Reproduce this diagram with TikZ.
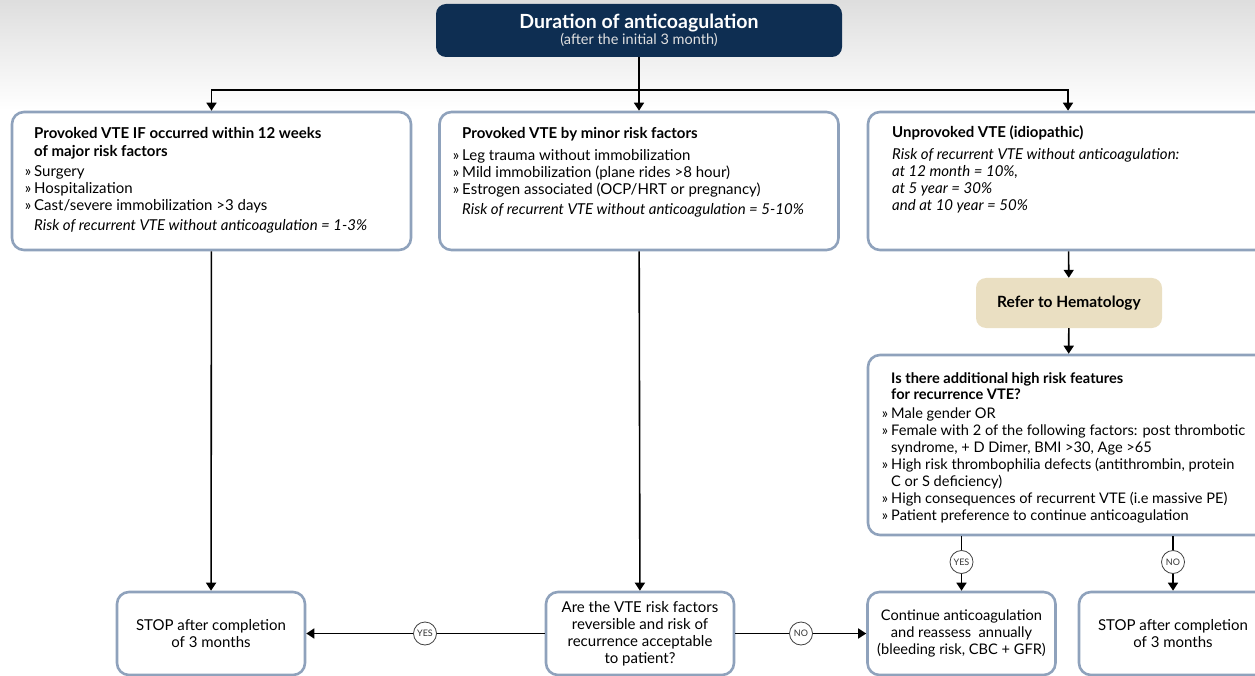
\documentclass[tikz,border=0pt]{standalone}
\usepackage{fontspec}
\setmainfont{Lato}
\usepackage{xcolor}
\usepackage{tikz}
\usetikzlibrary{arrows.meta, positioning, calc}
\definecolor{DeepNavy}{HTML}{0E2E52}
\definecolor{FrameGray}{HTML}{8FA2BC}
\definecolor{SandTan}{HTML}{EADFC2}
\newcommand{\bul}{\llap{»\hspace{3pt}}}

\begin{document}
\begin{tikzpicture}[>={Triangle[length=8pt,width=10pt]}, x=1pt, y=-1pt,
    every node/.style={font=\fontsize{15}{17}\selectfont},
    box/.style={draw=FrameGray, line width=2.6pt, fill=white, rounded corners=12pt, inner sep=0pt},
    endbox/.style={box, minimum width=188pt, minimum height=83pt, align=center},
    txt/.style={anchor=north west, align=left, inner sep=0pt},
    decide/.style={circle, draw=black!75, line width=0.8pt, fill=white, inner sep=0pt,
        minimum size=23pt, font=\fontsize{9}{10}\selectfont, text=black!80},
    link/.style={line width=1.6pt}]
        \useasboundingbox (0,0) rectangle (1255,676);
        \clip (0,0) rectangle (1255,676);
        % Background band
        \shade [top color=black!13, bottom color=white] (0,0) rectangle (1255,110);
        % Title
        \node [fill=DeepNavy, rounded corners=10pt, minimum width=406pt, minimum height=53pt, align=center, text=white]
            (title) at (639,30.5) {{\fontsize{19.5}{21}\selectfont\bfseries Duration of anticoagulation}\\[-1pt]
            {\fontsize{14.5}{15}\selectfont\color{white!88!black}(after the initial 3 month)}};
        \coordinate (split) at (639,90);
        % Three kinds of VTE
        \node [box, minimum width=399pt, minimum height=138pt] (major) at (211.5,181) {};
        \node [box, minimum width=399pt, minimum height=138pt] (minor) at (639,181) {};
        \node [box, minimum width=400pt, minimum height=138pt] (unprov) at (1068,181) {};
        \node [txt] (majortxt) at (34,127) {\textbf{Provoked VTE IF occurred within 12 weeks}\\[1pt]
            \textbf{of major risk factors}\\[3pt]
            \bul Surgery\\
            \bul Hospitalization\\
            \bul Cast/severe immobilization >3 days\\[3pt]
            \textit{Risk of recurrent VTE without anticoagulation = 1-3\%}};
        \node [txt] (minortxt) at (462,127) {\textbf{Provoked VTE by minor risk factors}\\[5pt]
            \bul Leg trauma without immobilization\\
            \bul Mild immobilization (plane rides >8 hour)\\
            \bul Estrogen associated (OCP/HRT or pregnancy)\\[3pt]
            \textit{Risk of recurrent VTE without anticoagulation = 5-10\%}};
        \node [txt] (unprovtxt) at (892,126) {\textbf{Unprovoked VTE (idiopathic)}\\[5pt]
            \textit{Risk of recurrent VTE without anticoagulation:}\\
            \textit{at 12 month = 10\%,}\\
            \textit{at 5 year = 30\%}\\
            \textit{and at 10 year = 50\%}};
        % Hematology and high risk features
        \node [fill=SandTan, rounded corners=10pt, minimum width=186pt, minimum height=50pt]
            (hema) at (1069,303) {\fontsize{15.5}{17}\selectfont\bfseries Refer to Hematology};
        \node [box, minimum width=400pt, minimum height=180pt] (highrisk) at (1068,445) {};
        \node [txt, font=\fontsize{14.6}{17}\selectfont] (highrisktxt) at (891,372)
            {\textbf{Is there additional high risk features}\\[-1pt]
            \textbf{for recurrence VTE?}\\[2pt]
            \bul Male gender OR\\
            \bul Female with 2 of the following factors: post thrombotic\\
            syndrome, + D Dimer, BMI >30, Age >65\\
            \bul High risk thrombophilia defects (antithrombin, protein\\
            C or S deficiency)\\
            \bul High consequences of recurrent VTE (i.e massive PE)\\
            \bul Patient preference to continue anticoagulation};
        % Bottom row
        \node [endbox] (stopA) at (211,633.5) {STOP after completion\\of 3 months};
        \node [endbox] (reverse) at (640,633.5) {Are the VTE risk factors\\reversible and risk of\\recurrence acceptable\\to patient?};
        \node [endbox, font=\fontsize{14.6}{17}\selectfont] (cont) at (961.5,633.5)
            {Continue anticoagulation\\and reassess\ \ annually\\(bleeding risk, CBC + GFR)};
        \node [endbox] (stopB) at (1173,633.5) {STOP after completion\\of 3 months};
        % Yes / no marks
        \node [decide] (yesA) at (425,633.5) {YES};
        \node [decide] (noA) at (801,633.5) {NO};
        \node [decide] (yesB) at (961.5,562) {YES};
        \node [decide] (noB) at (1173,562) {NO};
        % Connectors
        \draw [link, ->] (title) -- (minor);
        \draw [link, ->] (split) -| (major);
        \draw [link, ->] (split) -| (unprov);
        \draw [link, ->] (major) -- (stopA);
        \draw [link, ->] (minor) -- (reverse);
        \draw [link, ->] (unprov) -- (hema);
        \draw [link, ->] (hema) -- (highrisk);
        \draw [link] (reverse) -- (yesA);
        \draw [link, ->] (yesA) -- (stopA);
        \draw [link] (reverse) -- (noA);
        \draw [link, ->] (noA) -- (cont);
        \draw [link] (yesB |- highrisk.south) -- (yesB);
        \draw [link, ->] (yesB) -- (cont);
        \draw [link] (noB |- highrisk.south) -- (noB);
        \draw [link, ->] (noB) -- (stopB);
    \end{tikzpicture}
\end{document}
